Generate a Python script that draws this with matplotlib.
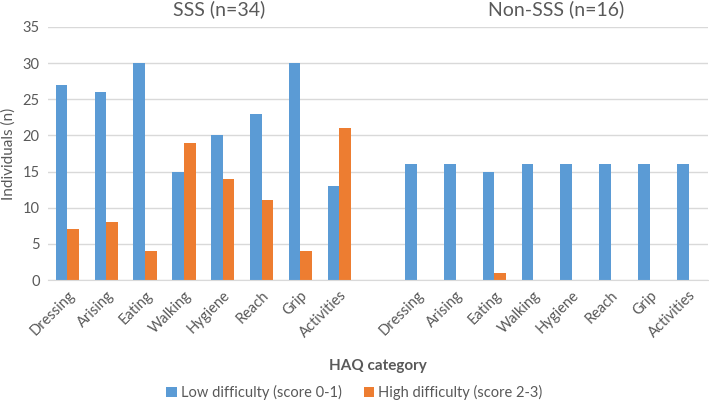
import numpy as np
import matplotlib.pyplot as plt

plt.rcParams['font.family'] = ['Lato', 'DejaVu Sans']

categories = ["Dressing", "Arising", "Eating", "Walking", "Hygiene", "Reach", "Grip", "Activities"]
sss_low = [27, 26, 30, 15, 20, 23, 30, 13]
sss_high = [7, 8, 4, 19, 14, 11, 4, 21]
non_low = [16, 16, 15, 16, 16, 16, 16, 16]
non_high = [0, 0, 1, 0, 0, 0, 0, 0]

blue = '#5B9BD5'
orange = '#ED7D31'
gray = '#595959'

fig = plt.figure(figsize=(7.09, 4.07), dpi=100)
ax = fig.add_axes([48 / 709, 0.312, 660 / 709, 0.622])

n = len(categories)
x_sss = np.arange(n)
x_non = np.arange(n) + n + 1
w = 0.3

ax.bar(x_sss - w / 2, sss_low, w, color=blue, label='Low difficulty (score 0-1)')
ax.bar(x_sss + w / 2, sss_high, w, color=orange, label='High difficulty (score 2-3)')
ax.bar(x_non - w / 2, non_low, w, color=blue)
ax.bar(x_non + w / 2, non_high, w, color=orange)

ax.set_xlim(-0.5, 2 * n + 0.5)
ax.set_ylim(0, 35)
ax.set_yticks(range(0, 36, 5))
ax.grid(axis='y', color='#d9d9d9', linewidth=1)
ax.set_axisbelow(True)
for s in ['top', 'right', 'left']:
    ax.spines[s].set_visible(False)
ax.spines['bottom'].set_color('#d9d9d9')

ax.set_xticks(list(x_sss) + list(x_non))
ax.set_xticklabels(categories + categories, rotation=45, ha='right',
                   rotation_mode='anchor', fontsize=10.5, color=gray)
ax.tick_params(axis='both', length=0, labelcolor=gray)
ax.tick_params(axis='y', labelsize=10.5, pad=6)
ax.tick_params(axis='x', pad=6)

ax.set_ylabel('Individuals (n)', fontsize=11, color=gray, labelpad=5)
ax.set_xlabel('HAQ category', fontsize=11, color=gray, fontweight='bold', labelpad=13)

ax.text(3.9, 36.2, 'SSS (n=34)', fontsize=14, color=gray, ha='center', va='bottom')
ax.text(12.6, 36.2, 'Non-SSS (n=16)', fontsize=14, color=gray, ha='center', va='bottom')

fig.legend(loc='lower center', bbox_to_anchor=(0.5, -0.015), ncol=2, frameon=False,
           fontsize=10.5, labelcolor=gray, handlelength=0.7, handleheight=0.7,
           columnspacing=1.5, handletextpad=0.3)

fig.savefig('out.png', dpi=100)
